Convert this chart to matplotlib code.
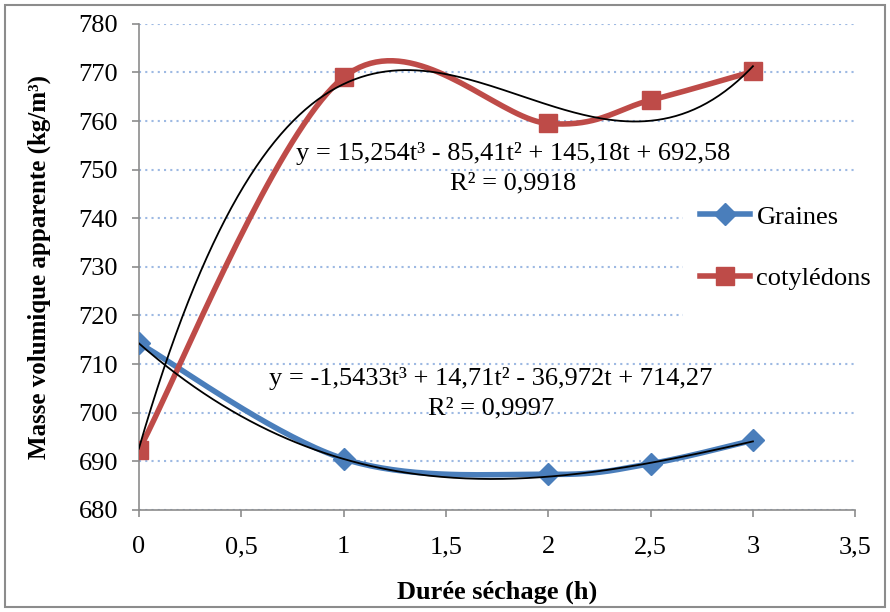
import numpy as np
import matplotlib
matplotlib.use("Agg")
import matplotlib.pyplot as plt
from matplotlib.lines import Line2D
from matplotlib.patches import Rectangle

plt.rcParams['font.family'] = ['Liberation Serif', 'DejaVu Serif']

# data
t = [0, 1, 2, 2.5, 3]
graines = [714.3, 690.5, 687.3, 689.5, 694.3]
cotyledons = [692.3, 769.0, 759.5, 764.3, 770.2]

# trendline coefficients (cubic, highest order first) as printed on the chart
coef_graines = [-1.5433, 14.71, -36.972, 714.27]
coef_cotyl = [15.254, -85.41, 145.18, 692.58]

eq_graines = "y = -1,5433t³ + 14,71t² - 36,972t + 714,27\nR² = 0,9997"
eq_cotyl = "y = 15,254t³ - 85,41t² + 145,18t + 692,58\nR² = 0,9918"

blue = "#4A7EBB"
red = "#BE4B48"


def smooth(x, y, n=40):
    # Excel-like smoothed line: parametric Catmull-Rom through the points
    p = np.column_stack([x, y]).astype(float)
    p = np.vstack([p[0], p, p[-1]])
    out = []
    for i in range(1, len(p) - 2):
        p0, p1, p2, p3 = p[i - 1], p[i], p[i + 1], p[i + 2]
        m1 = (p2 - p0) / 2
        m2 = (p3 - p1) / 2
        s = np.linspace(0, 1, n)[:, None]
        h00 = 2 * s**3 - 3 * s**2 + 1
        h10 = s**3 - 2 * s**2 + s
        h01 = -2 * s**3 + 3 * s**2
        h11 = s**3 - s**2
        out.append(h00 * p1 + h10 * m1 + h01 * p2 + h11 * m2)
    c = np.vstack(out)
    return c[:, 0], c[:, 1]


fig = plt.figure(figsize=(8.9, 6.12), dpi=100)
ax = fig.add_axes([0.156, 0.167, 0.805, 0.794])

ax.set_xlim(0, 3.5)
ax.set_ylim(680, 780)
ax.set_yticks(np.arange(680, 781, 10))
ax.set_xticks(np.arange(0, 3.51, 0.5))
ax.set_xticklabels(["0", "0,5", "1", "1,5", "2", "2,5", "3", "3,5"])
ax.grid(axis='y', color="#9DB9E3", linestyle=(0, (1, 2)), linewidth=1.5)
ax.set_axisbelow(True)

for side in ['top', 'right']:
    ax.spines[side].set_visible(False)
for side in ['left', 'bottom']:
    ax.spines[side].set_color("#8C8C8C")
    ax.spines[side].set_linewidth(1.2)
ax.tick_params(colors="#8C8C8C", length=5, width=1.2, labelsize=19, labelcolor="black")
ax.tick_params(axis='y', pad=10)
ax.tick_params(axis='x', pad=14)

xs, ys = smooth(t, graines)
ax.plot(xs, ys, color=blue, lw=4, zorder=3)
ax.plot(t, graines, ls='none', marker='D', ms=11, color=blue, zorder=4)

xs, ys = smooth(t, cotyledons)
ax.plot(xs, ys, color=red, lw=4, zorder=3)
ax.plot(t, cotyledons, ls='none', marker='s', ms=13, color=red, zorder=4)

tt = np.linspace(0, 3, 200)
ax.plot(tt, np.polyval(coef_graines, tt), color='black', lw=1.3, zorder=5)
ax.plot(tt, np.polyval(coef_cotyl, tt), color='black', lw=1.3, zorder=5)

ax.text(1.83, 750.3, eq_cotyl, ha='center', va='center', fontsize=19,
        linespacing=1.4, zorder=6)
ax.text(1.72, 704.0, eq_graines, ha='center', va='center', fontsize=19,
        linespacing=1.4, zorder=6)

ax.set_xlabel("Durée séchage (h)", fontsize=19, fontweight='bold', labelpad=16)
ax.set_ylabel("Masse volumique apparente (kg/m³)", fontsize=18,
              fontweight='bold', labelpad=20)

# white legend area (hides the gridlines behind the legend, like Excel)
fig.patches.append(Rectangle((0.767, 0.462), 0.225, 0.235, transform=fig.transFigure,
                             facecolor='white', edgecolor='none', zorder=4))

handles = [
    Line2D([], [], color=blue, lw=4, marker='D', ms=11),
    Line2D([], [], color=red, lw=4, marker='s', ms=13),
]
fig.legend(handles, ["Graines", "cotylédons"], loc='center left',
           bbox_to_anchor=(0.758, 0.595), frameon=False, fontsize=19,
           handlelength=1.9, handletextpad=0.25, labelspacing=1.45, borderpad=0.45)

fig.patches.append(Rectangle((0.006, 0.008), 0.988, 0.984, transform=fig.transFigure,
                             fill=False, edgecolor="#8C8C8C", lw=1.5, zorder=10))

fig.savefig("out.png", dpi=100)
